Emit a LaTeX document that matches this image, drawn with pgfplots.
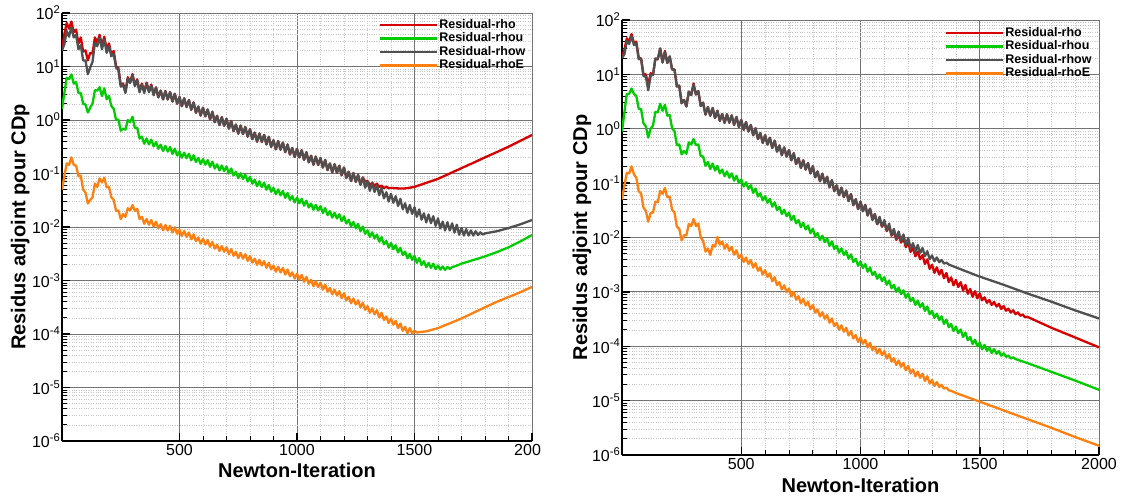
\documentclass[border=0pt]{standalone}
\usepackage{pgfplots}
\pgfplotsset{compat=1.18}
\usepackage{pgfplotstable}
\usepackage{fontspec}
\setmainfont{Liberation Sans}

\definecolor{resRho}{RGB}{214,0,0}
\definecolor{resRhou}{RGB}{0,204,0}
\definecolor{resRhow}{RGB}{80,80,80}
\definecolor{resRhoE}{RGB}{255,128,16}

% adjoint residuals, first run (diverging tail)
\pgfplotstableread{
it rho rhou rhow rhoE
0 22 1.6 20 0.05
10 40 3.2 26 0.089
20 65 6.2 46 0.155
30 51 5.8 36 0.145
40 69 7.1 54 0.2
50 44 4.8 35 0.145
60 49 5.1 39 0.14
70 27 3.2 21 0.089
80 35 3.2 25 0.091
90 19 2.0 13 0.05
100 20 1.95 13 0.044
110 13 1.38 7.2 0.0275
120 18 1.7 9.5 0.032
130 17.4 2.04 12.3 0.036
140 35 3.6 27.5 0.065
150 28 3.55 24 0.056
160 39 4.1 35 0.081
170 25 2.8 21 0.068
180 36 3.9 32 0.083
190 21 2.45 18 0.055
200 27 2.8 24 0.056
210 16.6 1.82 15.5 0.036
220 19.5 1.62 17.4 0.032
230 10.2 1.0 9.5 0.02
240 9.3 1.02 8.7 0.0204
250 4.5 0.63 4.2 0.0141
260 4.8 0.69 4.6 0.0174
270 3.4 0.66 3.2 0.0155
280 6.3 1.0 6.0 0.0224
290 5.1 0.91 4.9 0.0204
300 7.2 1.15 6.9 0.0257
310 4.5 0.71 4.3 0.02
320 5.75 0.72 5.5 0.0219
330 3.5 0.45 3.3 0.0141
340 4.8 0.49 4.6 0.0155
350 3.4 0.36 3.2 0.0115
360 5.0 0.45 4.8 0.0141
370 3.5 0.35 3.3 0.011
380 4.6 0.43 4.4 0.0135
390 3.05 0.32 2.9 0.0102
400 4.07 0.389 4.07 0.0126
410 2.66 0.291 2.66 0.0095
420 3.55 0.345 3.55 0.0113
430 2.43 0.264 2.43 0.0087
440 3.47 0.328 3.47 0.0109
450 2.43 0.257 2.43 0.0086
460 3.31 0.312 3.31 0.0105
470 2.21 0.233 2.21 0.0079
480 3.09 0.29 3.09 0.0099
490 2.02 0.217 2.02 0.00746
500 2.69 0.257 2.69 0.0089
510 1.81 0.197 1.81 0.0068
520 2.55 0.245 2.55 0.0084
530 1.75 0.193 1.75 0.00655
540 2.36 0.234 2.36 0.0079
550 1.55 0.176 1.55 0.0059
560 2.13 0.219 2.13 0.00728
570 1.37 0.164 1.37 0.00542
580 1.79 0.195 1.79 0.0064
590 1.21 0.15 1.21 0.00488
600 1.70 0.186 1.70 0.006
610 1.17 0.146 1.17 0.00471
620 1.57 0.178 1.57 0.0057
630 1.03 0.133 1.03 0.00426
640 1.42 0.166 1.42 0.00527
650 0.912 0.124 0.912 0.00394
660 1.2 0.148 1.2 0.00466
670 0.805 0.114 0.805 0.00356
680 1.13 0.141 1.13 0.0044
690 0.78 0.111 0.78 0.00344
700 1.05 0.135 1.05 0.00417
710 0.693 0.1 0.693 0.00312
720 0.96 0.124 0.96 0.00387
730 0.621 0.0919 0.621 0.0029
740 0.82 0.108 0.82 0.00344
750 0.556 0.0822 0.556 0.00263
760 0.787 0.101 0.787 0.00327
770 0.546 0.0789 0.546 0.00256
780 0.738 0.095 0.738 0.0031
790 0.489 0.0706 0.489 0.00232
800 0.676 0.0871 0.676 0.00288
810 0.439 0.0647 0.439 0.00216
820 0.581 0.0762 0.581 0.00256
830 0.394 0.0579 0.394 0.00196
840 0.56 0.0715 0.56 0.00243
850 0.389 0.0556 0.389 0.00191
860 0.527 0.067 0.527 0.00231
870 0.35 0.0498 0.35 0.00173
880 0.485 0.0614 0.485 0.00215
890 0.315 0.0456 0.315 0.00161
900 0.417 0.0537 0.417 0.00191
910 0.283 0.0408 0.283 0.00146
920 0.402 0.0504 0.402 0.00181
930 0.279 0.0392 0.279 0.00142
940 0.378 0.0472 0.378 0.00172
950 0.251 0.0351 0.251 0.00129
960 0.348 0.0433 0.348 0.0016
970 0.226 0.0321 0.226 0.0012
980 0.299 0.0378 0.299 0.00142
990 0.203 0.0288 0.203 0.00109
1000 0.288 0.0355 0.288 0.00135
1010 0.2 0.0277 0.2 0.00105
1020 0.272 0.0336 0.272 0.00127
1030 0.18 0.0251 0.18 0.000946
1040 0.25 0.031 0.25 0.00117
1050 0.162 0.0232 0.162 0.000871
1060 0.215 0.0274 0.215 0.00103
1070 0.146 0.021 0.146 0.000783
1080 0.207 0.0259 0.207 0.000968
1090 0.144 0.0203 0.144 0.000755
1100 0.195 0.0245 0.195 0.000912
1110 0.129 0.0182 0.129 0.000676
1120 0.179 0.0225 0.179 0.000832
1130 0.116 0.0167 0.116 0.000617
1140 0.154 0.0197 0.154 0.000724
1150 0.105 0.015 0.105 0.00055
1160 0.149 0.0185 0.149 0.000676
1170 0.103 0.0144 0.103 0.000525
1180 0.14 0.0173 0.14 0.000631
1190 0.0929 0.0129 0.0929 0.000468
1200 0.129 0.0158 0.129 0.000575
1210 0.0826 0.0116 0.0826 0.000425
1220 0.108 0.0136 0.108 0.000497
1230 0.0726 0.0102 0.0726 0.000375
1240 0.102 0.0124 0.102 0.000459
1250 0.07 0.00955 0.07 0.000355
1260 0.0938 0.0114 0.0938 0.000425
1270 0.0615 0.00836 0.0615 0.000313
1280 0.0843 0.0102 0.0843 0.000384
1290 0.0708 0.00748 0.0541 0.000283
1300 0.0724 0.0087 0.0708 0.000331
1310 0.0603 0.00653 0.0473 0.000249
1320 0.0676 0.00794 0.0661 0.000303
1330 0.0589 0.0061 0.0452 0.000233
1340 0.0646 0.00724 0.0603 0.000278
1350 0.0556 0.00531 0.0394 0.000204
1360 0.0596 0.00646 0.0537 0.000249
1370 0.0531 0.00473 0.0343 0.000183
1380 0.0569 0.0055 0.0447 0.000213
1390 0.0531 0.00412 0.0299 0.00016
1400 0.0537 0.00501 0.0417 0.000195
1410 0.0533 0.00385 0.0284 0.000149
1420 0.053 0.00457 0.0378 0.000177
1430 0.0527 0.00335 0.0247 0.000129
1440 0.0525 0.00407 0.0336 0.000157
1450 0.0525 0.00299 0.0214 0.000115
1460 0.0527 0.00347 0.0278 0.000136
1470 0.0535 0.0026 0.0185 0.000104
1480 0.0543 0.00316 0.0258 0.000129
1490 0.0552 0.00243 0.0176 0.000104
1500 0.0562 0.00288 0.0234 0.000115
1510 0.0582 0.00214 0.0155 0.000107
1520 0.0603 0.00263 0.0213 0.000108
1530 0.0624 0.00195 0.0137 0.00011
1540 0.0646 0.00229 0.018 0.000111
1550 0.0668 0.00178 0.0122 0.000112
1560 0.0692 0.00213 0.0171 0.000115
1570 0.0716 0.00172 0.0118 0.000119
1580 0.0741 0.00206 0.0159 0.000122
1590 0.0767 0.00163 0.0105 0.000125
1600 0.0794 0.00191 0.0145 0.000129
1610 0.0832 0.0016 0.00944 0.000134
1620 0.0871 0.00183 0.0126 0.00014
1630 0.0912 0.00158 0.00861 0.000146
1640 0.0955 0.00179 0.0123 0.000152
1650 0.1 0.00165 0.00861 0.000158
1660 0.105 0.00178 0.0117 0.000165
1670 0.11 0.00183 0.00785 0.000172
1680 0.115 0.0019 0.011 0.000179
1690 0.12 0.00198 0.00716 0.000187
1700 0.126 0.00207 0.00955 0.000195
1710 0.132 0.00213 0.00692 0.000205
1720 0.138 0.0022 0.00912 0.000215
1730 0.145 0.00226 0.00692 0.000225
1740 0.151 0.00234 0.00861 0.000237
1750 0.158 0.00241 0.00692 0.000248
1760 0.166 0.00249 0.00832 0.000261
1770 0.174 0.00256 0.00708 0.000274
1780 0.182 0.00265 0.00794 0.000287
1790 0.191 0.00273 0.00724 0.000301
1800 0.2 0.00282 0.00759 0.000316
1850 0.251 0.00339 0.00832 0.000398
1900 0.316 0.00417 0.00955 0.00049
1950 0.407 0.00537 0.0112 0.000603
2000 0.525 0.00708 0.0135 0.000759
}\leftres

% adjoint residuals, second run (converging)
\pgfplotstableread{
it rho rhou rhow rhoE
0 21 0.89 20 0.05
10 28 2.0 23.4 0.089
20 46 4.37 40.7 0.155
30 40 4.37 36.3 0.151
40 55 5.5 50 0.204
50 38 4.37 34.7 0.145
60 40 4.0 37 0.126
70 20.4 2.34 19 0.0708
80 19.5 2.29 19.5 0.0646
90 10 1.26 9.3 0.0355
100 10 1.1 9.1 0.0309
110 6.3 0.69 5.1 0.0195
120 10.5 1.0 9.5 0.0282
130 9.8 1.15 9.8 0.0288
140 19.5 2.04 19.5 0.0457
150 19 2.0 19 0.0447
160 30 2.88 30 0.0724
170 16.6 2.14 16.6 0.0631
180 27 2.75 25.7 0.0813
190 16.2 1.74 16.2 0.055
200 21.4 1.78 21.4 0.0562
210 12.3 1.02 12.3 0.0324
220 12.3 0.91 12.3 0.0288
230 6.0 0.5 6.0 0.0158
240 6.2 0.513 6.2 0.0145
250 2.95 0.339 2.95 0.0089
260 3.39 0.389 3.39 0.011
270 2.57 0.347 2.57 0.011
280 4.8 0.562 4.8 0.0178
290 4.17 0.513 4.17 0.0162
300 6.8 0.646 6.45 0.0219
310 4.27 0.5 4.27 0.0162
320 4.9 0.513 4.9 0.0182
330 2.63 0.316 2.63 0.01
340 3.02 0.309 3.02 0.0087
350 1.82 0.209 1.82 0.0055
360 2.51 0.245 2.51 0.0063
370 1.74 0.182 1.74 0.0048
380 2.4 0.229 2.4 0.0072
390 1.58 0.17 1.58 0.0068
400 2.14 0.207 2.14 0.0102
410 1.4 0.152 1.4 0.0074
420 1.87 0.178 1.87 0.00847
430 1.28 0.134 1.28 0.00627
440 1.84 0.164 1.84 0.00752
450 1.29 0.126 1.29 0.00569
460 1.76 0.151 1.76 0.00667
470 1.18 0.111 1.18 0.00482
480 1.65 0.136 1.65 0.00578
490 1.08 0.1 1.08 0.00418
500 1.45 0.117 1.45 0.00479
510 0.955 0.0867 0.955 0.00356
520 1.32 0.104 1.32 0.00429
530 0.891 0.0783 0.891 0.00326
540 1.17 0.0916 1.17 0.00384
550 0.759 0.0661 0.759 0.00279
560 1.02 0.0791 1.02 0.00336
570 0.646 0.057 0.646 0.00244
580 0.832 0.0652 0.832 0.00281
590 0.55 0.0481 0.55 0.00208
600 0.759 0.0575 0.759 0.00251
610 0.515 0.0436 0.515 0.00188
620 0.682 0.051 0.682 0.00219
630 0.443 0.0369 0.443 0.00157
640 0.6 0.0443 0.6 0.00186
650 0.38 0.032 0.38 0.00133
660 0.492 0.0366 0.492 0.00151
670 0.327 0.0271 0.327 0.00111
680 0.453 0.0325 0.453 0.00132
690 0.308 0.0246 0.308 0.000989
700 0.407 0.0288 0.407 0.00115
710 0.263 0.0209 0.263 0.000832
720 0.355 0.0251 0.355 0.001
730 0.224 0.0182 0.224 0.000724
740 0.288 0.0209 0.288 0.000832
750 0.191 0.0155 0.191 0.000617
760 0.263 0.0186 0.263 0.000741
770 0.178 0.0141 0.178 0.000562
780 0.234 0.0166 0.234 0.000661
790 0.151 0.012 0.151 0.000479
800 0.204 0.0145 0.204 0.000575
810 0.128 0.0105 0.128 0.000416
820 0.164 0.0121 0.164 0.000476
830 0.108 0.00897 0.108 0.000352
840 0.149 0.0108 0.149 0.000423
850 0.1 0.00822 0.1 0.00032
860 0.131 0.00968 0.131 0.000375
870 0.0843 0.00703 0.0843 0.000271
880 0.113 0.00847 0.113 0.000325
890 0.0711 0.00615 0.0711 0.000235
900 0.0912 0.00708 0.0912 0.000269
910 0.06 0.00525 0.06 0.0002
920 0.0824 0.00631 0.0824 0.000242
930 0.0555 0.00479 0.0555 0.000185
940 0.0728 0.00562 0.0728 0.000218
950 0.0468 0.00407 0.0468 0.000158
960 0.0628 0.0049 0.0628 0.000191
970 0.0394 0.00355 0.0394 0.000139
980 0.0506 0.00407 0.0506 0.000161
990 0.0333 0.00302 0.0333 0.00012
1000 0.0457 0.00363 0.0457 0.000145
1010 0.0305 0.00275 0.0305 0.000111
1020 0.0398 0.00324 0.0398 0.000131
1030 0.0254 0.00234 0.0254 9.59e-5
1040 0.0339 0.00282 0.0339 0.000116
1050 0.0211 0.00204 0.0211 8.51e-5
1060 0.0269 0.00234 0.0269 9.86e-5
1070 0.0176 0.00174 0.0176 7.38e-5
1080 0.0219 0.00209 0.024 8.95e-5
1090 0.0158 0.00158 0.016 6.85e-5
1100 0.0191 0.00186 0.0209 8.13e-5
1110 0.0131 0.00135 0.0134 5.93e-5
1120 0.0161 0.00162 0.018 7.18e-5
1130 0.0108 0.00117 0.0112 5.24e-5
1140 0.0129 0.00135 0.0144 6.05e-5
1150 0.00902 0.001 0.00944 4.52e-5
1160 0.0112 0.0012 0.0129 5.47e-5
1170 0.00805 0.000912 0.00869 4.18e-5
1180 0.00964 0.00107 0.0114 4.94e-5
1190 0.00664 0.000776 0.0073 3.61e-5
1200 0.00813 0.000933 0.00977 4.37e-5
1210 0.00545 0.000676 0.00621 3.21e-5
1220 0.00649 0.000776 0.00787 3.73e-5
1230 0.0045 0.000575 0.00548 2.81e-5
1240 0.00555 0.000692 0.00728 3.42e-5
1250 0.00398 0.000525 0.00519 2.63e-5
1260 0.00474 0.000617 0.00643 3.13e-5
1270 0.00325 0.000447 0.00453 2.3e-5
1280 0.00396 0.000537 0.00561 2.81e-5
1290 0.00265 0.000389 0.004 2.06e-5
1300 0.00316 0.000447 0.00468 2.4e-5
1310 0.00224 0.000331 0.00365 1.86e-5
1320 0.00283 0.000398 0.0043 2.19e-5
1330 0.00208 0.000302 0.00352 1.78e-5
1340 0.00254 0.000355 0.00387 1.95e-5
1350 0.00178 0.000257 0.00331 1.66e-5
1360 0.00222 0.000309 0.00344 1.74e-5
1370 0.00152 0.000224 0.00319 1.55e-5
1380 0.00185 0.000257 0.00306 1.51e-5
1390 0.00132 0.000191 0.00294 1.45e-5
1400 0.00166 0.000229 0.00282 1.38e-5
1410 0.00123 0.000174 0.00271 1.33e-5
1420 0.00151 0.000204 0.00261 1.28e-5
1430 0.00106 0.000148 0.00251 1.24e-5
1440 0.00134 0.000178 0.00241 1.19e-5
1450 0.000923 0.000129 0.00232 1.15e-5
1460 0.00113 0.000148 0.00223 1.11e-5
1470 0.000809 0.00011 0.00214 1.07e-5
1480 0.00103 0.000132 0.00206 1.03e-5
1490 0.00076 0.0001 0.00198 9.9e-6
1500 0.000933 0.000117 0.00191 9.55e-6
1510 0.0007 8.77e-5 nan nan
1520 0.000794 0.000106 nan nan
1530 0.000631 8.2e-5 nan nan
1540 0.000708 9.48e-5 nan nan
1550 0.000575 7.5e-5 nan nan
1560 0.000653 8.87e-5 nan nan
1570 0.000537 7.26e-5 nan nan
1580 0.000603 8.2e-5 nan nan
1590 0.000484 6.71e-5 nan nan
1600 0.00055 7.41e-5 0.00135 6.61e-6
1610 0.00045 6.38e-5 nan nan
1620 0.000491 6.76e-5 nan nan
1630 0.000416 5.96e-5 nan nan
1640 0.000459 6.24e-5 nan nan
1650 0.000389 5.82e-5 nan nan
1660 0.00042 5.62e-5 nan nan
1670 0.000364 5.43e-5 nan nan
1680 0.000384 5.25e-5 nan nan
1690 0.00034 5.07e-5 nan nan
1700 0.000347 4.9e-5 0.000933 4.57e-6
1800 0.000219 3.39e-5 0.000661 3.16e-6
1900 0.000145 2.34e-5 0.000457 2.14e-6
2000 9.55e-5 1.58e-5 0.000324 1.48e-6
}\rightres

\pgfplotsset{
  resplot/.style={
    scale only axis,
    xmin=0, xmax=2000, ymin=1e-6, ymax=1e2,
    axis lines*=left,
    axis line style={-, line width=1.6pt, black},
    xtick={500,1000,1500,2000},
    minor x tick num=4,
    tick align=inside,
    major tick length=8pt, minor tick length=5pt,
    major tick style={line width=1.5pt, black},
    minor tick style={line width=0.8pt, black},
    grid=both,
    major grid style={black!55, line width=0.8pt},
    minor grid style={black!22, dotted, line width=0.6pt},
    tick label style={font=\fontsize{16}{16}\selectfont},
    yticklabel style={inner xsep=1.5pt},
    label style={font=\bfseries\fontsize{20}{20}\selectfont},
    xlabel={Newton-Iteration},
    ylabel={Residus adjoint pour CDp},
    yticklabel={10\textsuperscript{\pgfmathparse{int(round(\tick/ln(10)))}\pgfmathresult}},
    legend cell align=left,
    legend style={draw=none, fill=none, anchor=north west, inner sep=0pt,
      row sep=0pt,
      nodes={inner xsep=1pt, inner ysep=1.5pt, text height=8.5pt, text depth=2pt},
      font=\bfseries\fontsize{12.5}{13}\selectfont},
    legend image code/.code={\draw[##1, line width=2.2pt] (0pt,0pt) -- (50pt,0pt);
      \path (0pt,0pt) -- (57pt,0pt);},
    every axis plot/.append style={line width=2.3pt, line join=round},
  }
}

\begin{document}
\begin{tikzpicture}
\useasboundingbox (0,0) rectangle (1124pt,497pt);

\begin{axis}[ymode=log, resplot,
    at={(62pt,56pt)}, anchor=south west,
    width=470pt, height=428pt,
    xticklabels={500,1000,1500,200\phantom{0}},
    xlabel style={at={(axis description cs:0.5,-0.068)}, anchor=center},
    ylabel style={at={(axis description cs:-0.089,0.5)}, anchor=center},
    legend style={at={(0.674,0.988)}}]
  \addplot[resRho, no markers]  table[x=it, y=rho]  {\leftres};
  \addplot[resRhou, no markers] table[x=it, y=rhou] {\leftres};
  \addplot[resRhow, no markers] table[x=it, y=rhow] {\leftres};
  \addplot[resRhoE, no markers] table[x=it, y=rhoE] {\leftres};
  \legend{Residual-rho, Residual-rhou, Residual-rhow, Residual-rhoE}
\end{axis}

\begin{axis}[ymode=log, resplot,
    at={(622pt,42pt)}, anchor=south west,
    width=477pt, height=435pt,
    xticklabels={500,1000,1500,2000},
    xlabel style={at={(axis description cs:0.5,-0.069)}, anchor=center},
    ylabel style={at={(axis description cs:-0.084,0.5)}, anchor=center},
    legend style={at={(0.677,0.986)}}]
  \addplot[resRho, no markers]  table[x=it, y=rho]  {\rightres};
  \addplot[resRhou, no markers] table[x=it, y=rhou] {\rightres};
  \addplot[resRhow, no markers] table[x=it, y=rhow] {\rightres};
  \addplot[resRhoE, no markers] table[x=it, y=rhoE] {\rightres};
  \legend{Residual-rho, Residual-rhou, Residual-rhow, Residual-rhoE}
\end{axis}
\end{tikzpicture}
\end{document}
